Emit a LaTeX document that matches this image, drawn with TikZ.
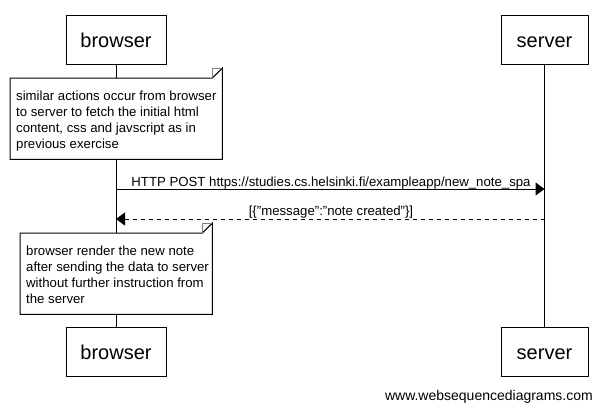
\documentclass[tikz,border=0pt]{standalone}
\usepackage{fontspec}
\setmainfont{Liberation Sans}
\usetikzlibrary{arrows.meta}
\begin{document}
\begin{tikzpicture}[x=1pt,y=-1pt,
  actor/.style={draw=black, line width=1pt, fill=white, minimum width=100pt, minimum height=49pt, inner sep=0pt, text height=18pt, text depth=3pt, font=\fontsize{20}{24}\selectfont},
  lifeline/.style={draw=black, line width=1pt},
  notebox/.style={draw=none, fill=white, inner sep=0pt, anchor=north west},
  notetext/.style={anchor=base west, align=left, inner sep=0pt, font=\fontsize{13.2}{16}\selectfont},
  msg/.style={line width=1pt, -{Triangle[length=9pt,width=13pt]}},
  msglabel/.style={inner sep=0pt, anchor=base, font=\fontsize{13.2}{16}\selectfont},
]
\useasboundingbox (0,0) rectangle (602,410);
\fill[white] (0,0) rectangle (602,410);
% actors
\node[actor] (bt) at (116,39.5) {browser};
\node[actor, minimum width=87pt] (st) at (544.5,39.5) {server};
\node[actor] (bb) at (116,351.5) {browser};
\node[actor, minimum width=87pt] (sb) at (544.5,351.5) {server};
% lifelines
\draw[lifeline] (bt.south) -- (bb.north);
\draw[lifeline] (st.south) -- (sb.north);
% note 1
\node[notebox, minimum width=212pt, minimum height=81pt] (n1) at (10,78) {};
\filldraw[fill=white, draw=black, line width=1pt] (n1.north west) -- ([xshift=-10pt]n1.north east) -- ([yshift=10pt]n1.north east) -- (n1.south east) -- (n1.south west) -- cycle;
\draw[gray, line width=1pt] ([xshift=-10pt]n1.north east) -- ([xshift=-10pt,yshift=10pt]n1.north east) -- ([yshift=10pt]n1.north east);
\node[notetext] (t1) at (16,148) {similar actions occur from browser\\to server to fetch the initial html\\content, css and javscript as in\\previous exercise};
% note 2
\node[notebox, minimum width=192pt, minimum height=81pt] (n2) at (20,233) {};
\filldraw[fill=white, draw=black, line width=1pt] (n2.north west) -- ([xshift=-10pt]n2.north east) -- ([yshift=10pt]n2.north east) -- (n2.south east) -- (n2.south west) -- cycle;
\draw[gray, line width=1pt] ([xshift=-10pt]n2.north east) -- ([xshift=-10pt,yshift=10pt]n2.north east) -- ([yshift=10pt]n2.north east);
\node[notetext] (t2) at (26,303) {browser render the new note\\after sending the data to server\\without further instruction from\\the server};
% messages
\coordinate (b1) at (116,189);
\coordinate (s1) at (544.5,189);
\coordinate (b2) at (116,219);
\coordinate (s2) at (544.5,219);
\draw[msg] (b1) -- (s1);
\node[msglabel] (m1) at (331,186) {HTTP POST https://studies.cs.helsinki.fi/exampleapp/new\_note\_spa};
\draw[msg, dash pattern=on 4pt off 4pt] (s2) -- (b2);
\node[msglabel] (m2) at (331,215) {[\{"message":"note created"\}]};
% footer
\node[inner sep=0pt, anchor=base east, font=\fontsize{14}{16}\selectfont] (ft) at (593,400) {www.websequencediagrams.com};
\end{tikzpicture}
\end{document}
